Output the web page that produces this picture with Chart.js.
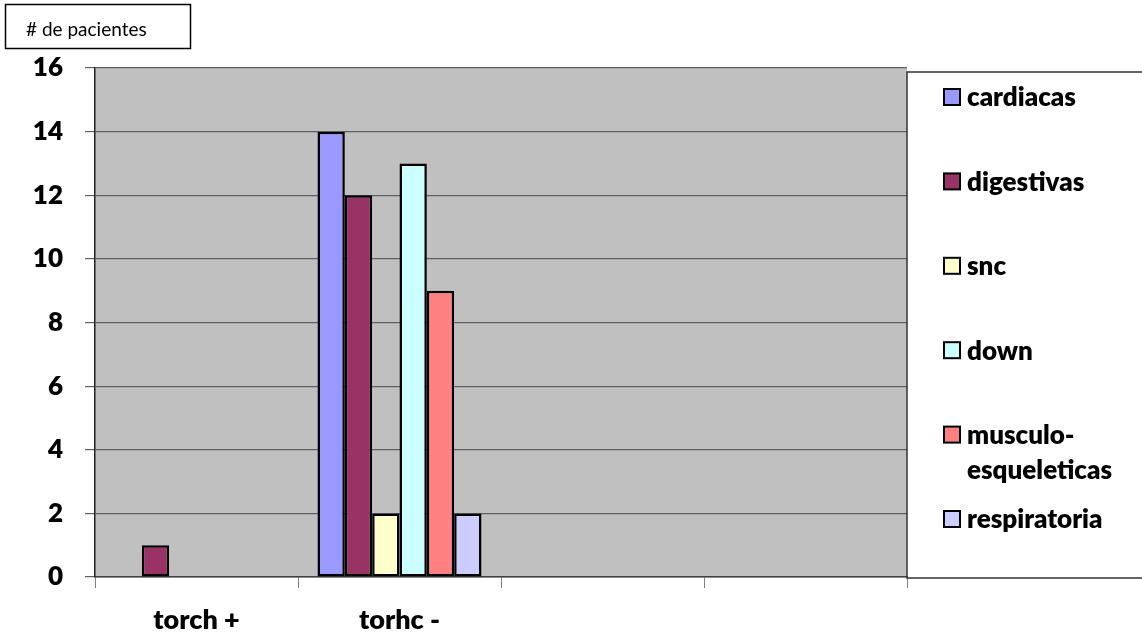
<!DOCTYPE html>
<html>
<head>
<meta charset="utf-8">
<script src="https://cdn.jsdelivr.net/npm/chart.js@4/dist/chart.umd.min.js"></script>
<style>
  html, body { margin: 0; padding: 0; background: #fff; }
  canvas { display: block; }
</style>
</head>
<body>
<canvas id="chart" width="1142" height="634"></canvas>
<script>
// categorias del eje x (las dos ultimas vacias)
const categories = ['torch +', 'torhc -', '', ''];

// pacientes por tipo de malformacion
const cardiacas = [0, 14, 0, 0];
const digestivas = [1, 12, 0, 0];
const snc = [0, 2, 0, 0];
const down = [0, 13, 0, 0];
const musculoEsqueleticas = [0, 9, 0, 0];
const respiratoria = [0, 2, 0, 0];

const yTicks = [0, 2, 4, 6, 8, 10, 12, 14, 16];
const yTitle = '# de pacientes';

const FONT = 'Lato, "Open Sans", sans-serif';

function serie(label, data, color) {
  return {
    label: label,
    data: data,
    backgroundColor: color,
    borderColor: '#000',
    borderWidth: 2.5,
    borderSkipped: false,
    categoryPercentage: 0.808,
    barPercentage: 1
  };
}

// fondo gris del area de trazado
const plotBackground = {
  id: 'plotBackground',
  beforeDraw(chart) {
    const { ctx, chartArea: a } = chart;
    ctx.save();
    ctx.fillStyle = '#C0C0C0';
    ctx.fillRect(a.left, a.top, a.right - a.left, a.bottom - a.top);
    ctx.restore();
  }
};

// caja del titulo del eje y y leyenda con recuadro
const boxes = {
  id: 'boxes',
  afterDraw(chart) {
    const { ctx, chartArea: a } = chart;
    ctx.save();

    // titulo
    ctx.strokeStyle = '#000';
    ctx.lineWidth = 1.5;
    ctx.strokeRect(5.5, 4.5, 185, 44);
    ctx.fillStyle = '#000';
    ctx.font = '19px ' + FONT;
    ctx.textBaseline = 'alphabetic';
    ctx.textAlign = 'left';
    ctx.fillText(yTitle, 26, 36);

    // recuadro de la leyenda
    ctx.strokeStyle = '#333';
    ctx.lineWidth = 1.5;
    ctx.beginPath();
    ctx.moveTo(1142, 72);
    ctx.lineTo(a.right, 72);
    ctx.lineTo(a.right, 578);
    ctx.lineTo(1142, 578);
    ctx.stroke();

    // elementos de la leyenda
    ctx.font = '800 26px ' + FONT;
    ctx.textBaseline = 'middle';
    const step = 84.4;
    let y = 97;
    chart.data.datasets.forEach(ds => {
      ctx.fillStyle = ds.backgroundColor;
      ctx.fillRect(944, y - 8, 16, 16);
      ctx.strokeStyle = '#000';
      ctx.lineWidth = 2;
      ctx.strokeRect(944, y - 8, 16, 16);
      ctx.fillStyle = '#000';
      let lines = [ds.label];
      if (ctx.measureText(ds.label).width > 170 && ds.label.includes('-')) {
        const i = ds.label.indexOf('-') + 1;
        lines = [ds.label.slice(0, i), ds.label.slice(i)];
      }
      lines.forEach((t, k) => ctx.fillText(t, 967, y + 1 + k * 35));
      y += step;
    });
    ctx.restore();
  }
};

new Chart(document.getElementById('chart'), {
  type: 'bar',
  data: {
    labels: categories,
    datasets: [
      serie('cardiacas', cardiacas, '#9999FF'),
      serie('digestivas', digestivas, '#993366'),
      serie('snc', snc, '#FFFFCC'),
      serie('down', down, '#CCFFFF'),
      serie('musculo-esqueleticas', musculoEsqueleticas, '#FF8080'),
      serie('respiratoria', respiratoria, '#CCCCFF')
    ]
  },
  options: {
    responsive: false,
    animation: false,
    layout: { padding: { top: 68, right: 235, left: 0, bottom: 0 } },
    plugins: {
      legend: { display: false },
      tooltip: { enabled: false }
    },
    scales: {
      x: {
        grid: {
          offset: true,
          drawOnChartArea: false,
          drawTicks: true,
          tickLength: 11,
          color: '#808080',
          lineWidth: 1
        },
        border: { color: '#404040', width: 1.5 },
        ticks: {
          color: '#000',
          padding: 16,
          font: { family: FONT, size: 27, weight: '800' }
        },
        afterFit(scale) { scale.height = 57; }
      },
      y: {
        min: 0,
        max: 16,
        afterBuildTicks(scale) { scale.ticks = yTicks.map(v => ({ value: v })); },
        grid: {
          color: '#606060',
          lineWidth: 1.2,
          tickLength: 10,
          drawTicks: true
        },
        border: { color: '#202020', width: 1.5 },
        ticks: {
          color: '#000',
          padding: 22,
          font: { family: FONT, size: 26, weight: '800' }
        },
        afterFit(scale) { scale.width = 95; }
      }
    }
  },
  plugins: [plotBackground, boxes]
});
</script>
</body>
</html>
